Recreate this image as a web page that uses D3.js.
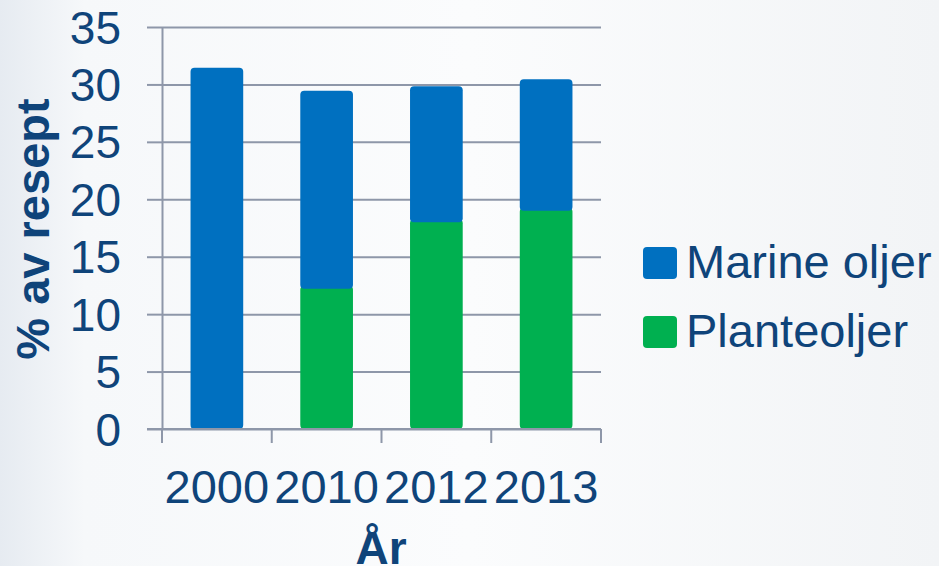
<!DOCTYPE html>
<html>
<head>
<meta charset="utf-8">
<script src="https://cdn.jsdelivr.net/npm/d3@7"></script>
<style>
  html, body { margin: 0; padding: 0; }
  body { width: 939px; height: 566px; overflow: hidden; }
  svg { display: block; font-family: "Liberation Sans", Arial, sans-serif; }
</style>
</head>
<body>
<svg id="chart" width="939" height="566"></svg>
<script>
// Share of fat in the feed recipe, by source and year
const years = ["2000", "2010", "2012", "2013"];
const planteoljer = [0, 12.2, 18.0, 19.0];
const marineOljer = [31.45, 17.25, 11.85, 11.45];
const seriesNames = ["Marine oljer", "Planteoljer"];
const seriesColors = ["#0070c0", "#00b050"];
const yTicks = [0, 5, 10, 15, 20, 25, 30, 35];

const textColor = "#0f447a";
const gridColor = "#8e97a9";

const svg = d3.select("#chart");
const W = 939, H = 566;

// soft background
const defs = svg.append("defs");
const bg = defs.append("linearGradient").attr("id", "bg").attr("x1", "0").attr("x2", "1").attr("y1", "0").attr("y2", "0");
bg.append("stop").attr("offset", "0").attr("stop-color", "#e6ebf1");
bg.append("stop").attr("offset", "0.09").attr("stop-color", "#f6f8fa");
bg.append("stop").attr("offset", "0.5").attr("stop-color", "#fbfcfd");
bg.append("stop").attr("offset", "1").attr("stop-color", "#f2f4f6");
svg.append("rect").attr("width", W).attr("height", H).attr("fill", "url(#bg)");

const plot = { left: 162, right: 601, top: 27, bottom: 429 };

const x = d3.scaleBand().domain(years).range([plot.left, plot.right]).paddingInner(0.52).paddingOuter(0.26);
const xTickScale = d3.scaleBand().domain(years).range([plot.left, plot.right]);
const y = d3.scaleLinear().domain([0, 35]).range([plot.bottom, plot.top]);

// horizontal gridlines with outward left ticks
const gy = svg.append("g").attr("transform", `translate(${plot.left},0)`)
  .call(d3.axisLeft(y).tickValues(yTicks).tickSize(15).tickSizeOuter(0).tickPadding(10).tickFormat(d3.format("d")));
gy.select(".domain").attr("stroke", gridColor).attr("stroke-width", 2);
gy.selectAll(".tick line").attr("stroke", gridColor).attr("stroke-width", 2);
gy.selectAll(".tick").append("line")
  .attr("x1", 0).attr("x2", plot.right - plot.left)
  .attr("stroke", gridColor).attr("stroke-width", 2);
gy.selectAll(".tick text")
  .attr("fill", textColor).attr("font-size", 46).attr("dx", -16).attr("dy", "0.35em")
  .style("font-family", "'Liberation Sans', Arial, sans-serif");

// stacked bars: green at the base, blue above
const bars = svg.append("g");
years.forEach((yr, i) => {
  const x0 = x(yr), w = x.bandwidth();
  const g = planteoljer[i], m = marineOljer[i];
  if (g > 0) {
    bars.append("rect")
      .attr("x", x0).attr("width", w)
      .attr("y", y(g) - 3).attr("height", y(0) - y(g) + 3)
      .attr("rx", 4).attr("fill", seriesColors[1]);
  }
  bars.append("rect")
    .attr("x", x0).attr("width", w)
    .attr("y", y(g + m)).attr("height", y(g) - y(g + m))
    .attr("rx", 4).attr("fill", seriesColors[0]);
});

// x axis with category dividers
const gx = svg.append("g").attr("transform", `translate(0,${plot.bottom})`)
  .call(d3.axisBottom(xTickScale).tickSize(0).tickPadding(40));
gx.select(".domain").remove();
gx.append("line").attr("x1", 147).attr("x2", plot.right).attr("stroke", gridColor).attr("stroke-width", 2);
const edges = years.map(d => xTickScale(d)).concat([plot.right]);
gx.selectAll(".divider").data(edges).join("line").attr("class", "divider")
  .attr("x1", d => d).attr("x2", d => d).attr("y1", 0).attr("y2", 14)
  .attr("stroke", gridColor).attr("stroke-width", 2);
gx.selectAll(".tick text")
  .attr("fill", textColor).attr("font-size", 47).attr("dy", 0).attr("y", 74)
  .style("font-family", "'Liberation Sans', Arial, sans-serif");

// axis titles
svg.append("text")
  .attr("transform", `translate(49,229) rotate(-90)`)
  .attr("text-anchor", "middle").attr("fill", textColor)
  .attr("font-size", 47).attr("font-weight", "bold")
  .text("% av resept");
svg.append("text")
  .attr("x", 381).attr("y", 564)
  .attr("text-anchor", "middle").attr("fill", textColor)
  .attr("font-size", 46).attr("font-weight", "bold")
  .text("År");

// legend
const legend = svg.append("g").attr("transform", "translate(643,247)");
seriesNames.forEach((name, i) => {
  const row = legend.append("g").attr("transform", `translate(0,${i * 69})`);
  row.append("rect").attr("width", 34).attr("height", 32).attr("rx", 4).attr("fill", seriesColors[i]);
  row.append("text").attr("x", 43).attr("y", 31)
    .attr("fill", textColor).attr("font-size", 47).text(name);
});
</script>
</body>
</html>
